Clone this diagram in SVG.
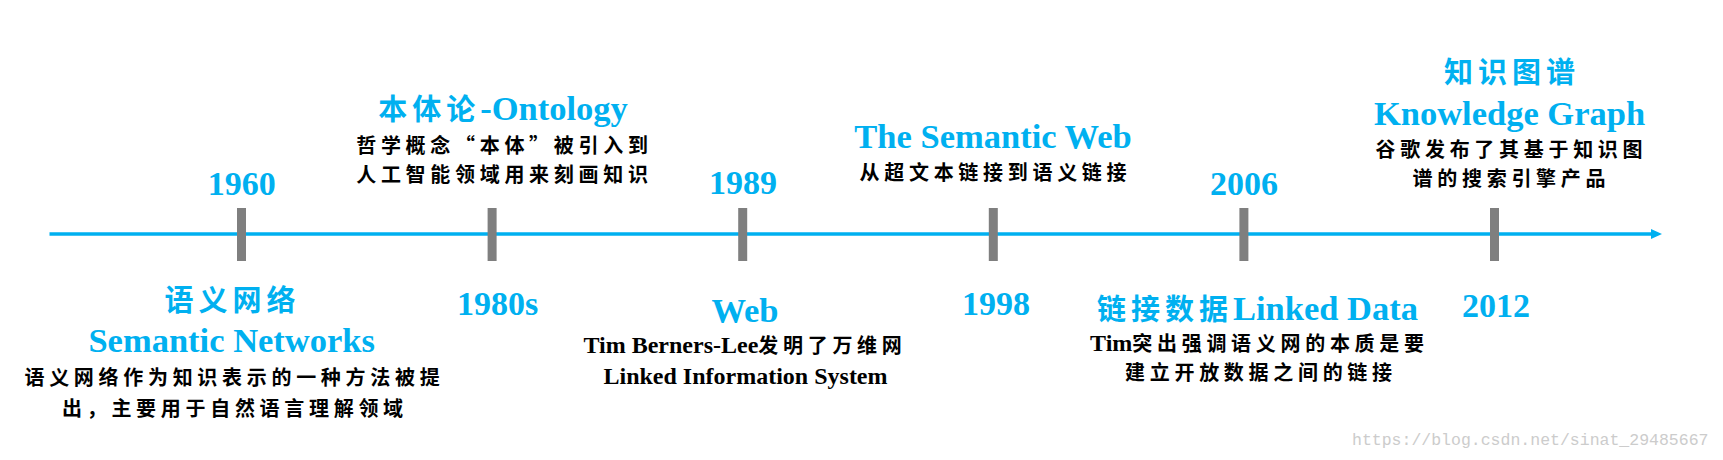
<svg xmlns="http://www.w3.org/2000/svg" width="1723" height="460" viewBox="0 0 1723 460">
<style>
.yr{font-family:"Liberation Serif",serif;font-weight:bold;font-size:34px;fill:#00b0f0;text-anchor:middle}
.hd{font-family:"Liberation Serif","Noto Sans CJK SC",serif;font-weight:bold;font-size:34.5px;fill:#00b0f0;text-anchor:middle}
.hc{font-family:"Noto Sans CJK SC",sans-serif;font-weight:bold;font-size:29px;letter-spacing:5px}
.hl{font-family:"Liberation Serif",serif;letter-spacing:0}
.ds{font-family:"Noto Sans CJK SC",sans-serif;font-weight:bold;font-size:20px;letter-spacing:4.7px;fill:#000;text-anchor:middle}
.dl{font-family:"Liberation Serif",serif;font-size:24px;letter-spacing:0}
.tick{fill:#7f7f7f}
.wm{font-family:"Liberation Mono",monospace;font-size:16.5px;fill:#cccccc}
</style>
<defs>
<marker id="arr" markerWidth="11" markerHeight="10" refX="1" refY="5" orient="auto" markerUnits="userSpaceOnUse">
<path d="M0,0 L11,5 L0,10 Z" fill="#00b0f0"/>
</marker>
</defs>
<rect width="1723" height="460" fill="#ffffff"/>
<g id="connectors">
<line x1="49.5" y1="234" x2="1652" y2="234" stroke="#00b0f0" stroke-width="3.5" marker-end="url(#arr)"/>
</g>
<g id="n1960">
<rect class="tick" x="237" y="208" width="9" height="53"/>
<text class="yr" x="241.7" y="195">1960</text>
<text class="hd" x="232.5" y="310.7"><tspan class="hc">语义网络</tspan></text>
<text class="hd" x="231.7" y="351.7">Semantic Networks</text>
<text class="ds" x="234.4" y="385">语义网络作为知识表示的一种方法被提</text>
<text class="ds" x="234.9" y="415.5">出，主要用于自然语言理解领域</text>
</g>
<g id="n1980s">
<rect class="tick" x="487.6" y="208" width="9" height="53"/>
<text class="yr" x="497.5" y="315">1980s</text>
<text class="hd" x="503" y="120"><tspan class="hc">本体论</tspan><tspan class="hl">-Ontology</tspan></text>
<text class="ds" x="504.4" y="153.4">哲学概念“本体”被引入到</text>
<text class="ds" x="504.4" y="181.7">人工智能领域用来刻画知识</text>
</g>
<g id="n1989">
<rect class="tick" x="738.2" y="208" width="9" height="53"/>
<text class="yr" x="743" y="194">1989</text>
<text class="hd" x="745" y="321.7">Web</text>
<text class="ds" x="745" y="353"><tspan class="dl">Tim Berners-Lee</tspan>发明了万维网</text>
<text class="ds" x="745.5" y="384"><tspan class="dl">Linked Information System</tspan></text>
</g>
<g id="n1998">
<rect class="tick" x="988.8" y="208" width="9" height="53"/>
<text class="yr" x="996" y="315">1998</text>
<text class="hd" x="993" y="148.3">The Semantic Web</text>
<text class="ds" x="995.4" y="180">从超文本链接到语义链接</text>
</g>
<g id="n2006">
<rect class="tick" x="1239.4" y="208" width="9" height="53"/>
<text class="yr" x="1244" y="194.5">2006</text>
<text class="hd" x="1257.5" y="320"><tspan class="hc">链接数据</tspan><tspan class="hl">Linked Data</tspan></text>
<text class="ds" x="1259.4" y="350.7"><tspan class="dl">Tim</tspan>突出强调语义网的本质是要</text>
<text class="ds" x="1260.9" y="380">建立开放数据之间的链接</text>
</g>
<g id="n2012">
<rect class="tick" x="1490" y="208" width="9" height="53"/>
<text class="yr" x="1496" y="316.5">2012</text>
<text class="hd" x="1512" y="82.7"><tspan class="hc">知识图谱</tspan></text>
<text class="hd" x="1509.5" y="125">Knowledge Graph</text>
<text class="ds" x="1511.4" y="157">谷歌发布了其基于知识图</text>
<text class="ds" x="1511.4" y="185.5">谱的搜索引擎产品</text>
</g>
<text class="wm" x="1352" y="445">https://blog.csdn.net/sinat_29485667</text>
</svg>
